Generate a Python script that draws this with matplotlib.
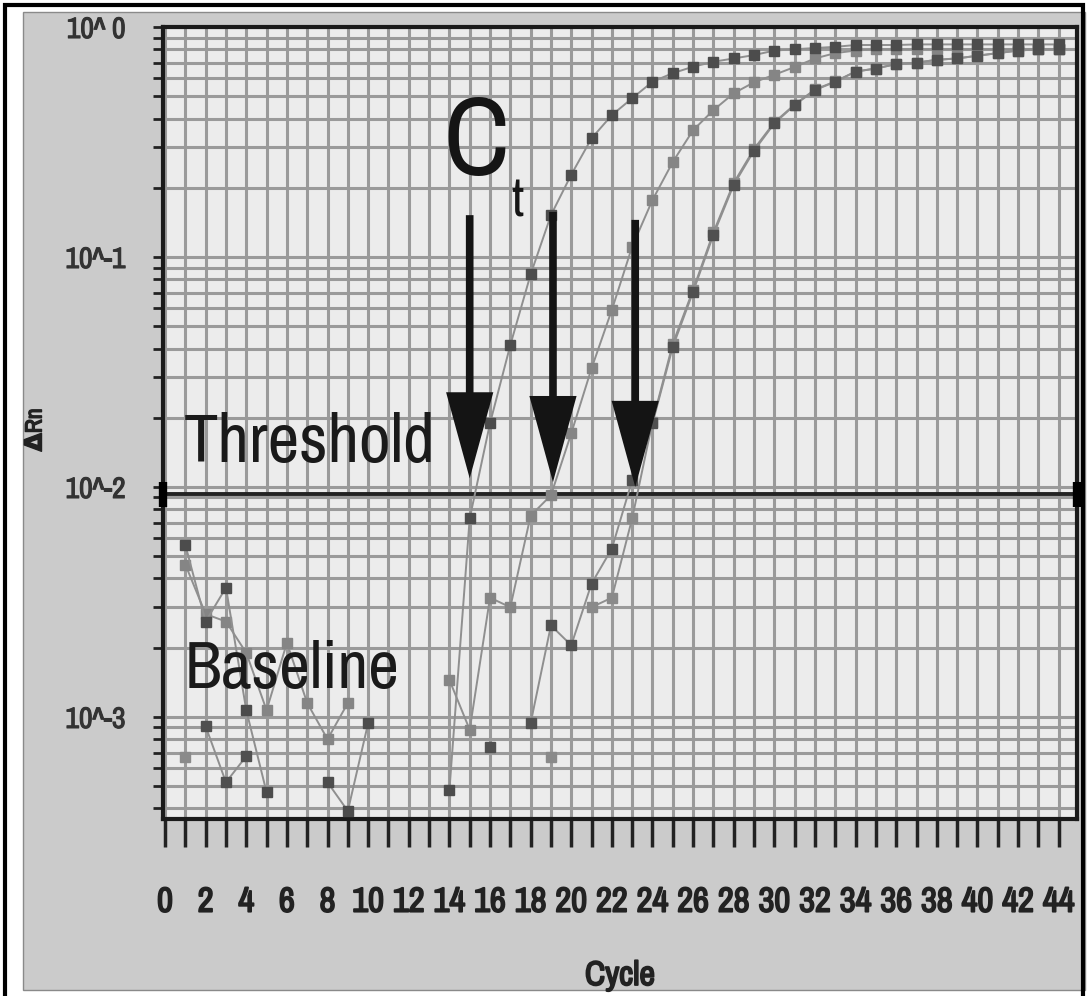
import numpy as np
import matplotlib
matplotlib.use("Agg")
import matplotlib.pyplot as plt
import matplotlib.patheffects as pe
from matplotlib import font_manager
from matplotlib.patches import Rectangle
from matplotlib.ticker import FixedLocator, LogLocator, NullFormatter

nan = np.nan

# amplification data (cycle 1..44)
cycles = np.arange(1, 45)

# dark early curve
curve_a = [5.6e-3, 2.6e-3, 3.65e-3, 1.07e-3, 4.7e-4, nan, nan, 5.2e-4, 3.9e-4, 9.4e-4,
           nan, nan, nan, 4.8e-4, 7.3e-3, 0.0189, 0.0414, 0.084, 0.152, 0.228,
           0.328, 0.414, 0.49, 0.578, 0.63, 0.672, 0.706, 0.73, 0.755, 0.79,
           0.80, 0.81, 0.82, 0.835, 0.835, 0.835, 0.84, 0.84, 0.84, 0.84,
           0.84, 0.84, 0.84, 0.84]
# light middle curve
curve_b = [4.6e-3, 2.8e-3, 2.6e-3, 1.9e-3, 1.07e-3, 2.1e-3, 1.15e-3, 8.0e-4, 1.15e-3, nan,
           nan, nan, nan, 1.45e-3, 8.8e-4, 3.3e-3, 3.0e-3, 7.5e-3, 9.2e-3, 0.0171,
           0.0328, 0.0589, 0.111, 0.177, 0.259, 0.356, 0.435, 0.515, 0.575, 0.62,
           0.67, 0.73, 0.77, 0.79, 0.80, 0.80, 0.80, 0.80, 0.80, 0.80,
           0.80, 0.80, 0.80, 0.80]
# dark late curve
curve_c = [nan, 9.1e-4, 5.2e-4, 6.75e-4, nan, nan, nan, nan, nan, nan,
           nan, nan, nan, nan, nan, 7.4e-4, nan, 9.4e-4, 2.5e-3, 2.05e-3,
           3.8e-3, 5.4e-3, 0.0107, 0.0189, 0.0407, 0.0706, 0.125, 0.206, 0.29, 0.381,
           0.458, 0.532, 0.578, 0.64, 0.66, 0.69, 0.70, 0.72, 0.73, 0.75,
           0.77, 0.79, 0.80, 0.80]
# light late curve
curve_d = [6.7e-4, nan, nan, nan, nan, nan, nan, nan, nan, nan,
           nan, nan, nan, nan, nan, nan, nan, nan, 6.7e-4, nan,
           3.0e-3, 3.3e-3, 7.3e-3, 0.0192, 0.042, 0.072, 0.128, 0.21, 0.295, 0.385,
           0.46, 0.535, 0.58, 0.64, 0.66, 0.69, 0.70, 0.72, 0.73, 0.75,
           0.77, 0.79, 0.80, 0.80]

threshold = 0.0093
ct_x = [15.0, 19.1, 23.15]
ct_top = [0.152, 0.157, 0.145]
ct_tip = [0.0109, 0.0105, 0.0100]

x_ticks = list(range(0, 45))
x_labels = [str(v) if v % 2 == 0 else "" for v in x_ticks]
y_ticks = [1e-3, 1e-2, 1e-1, 1.0]
y_labels = ["10^-3", "10^-2", "10^-1", "10^ 0"]


def pick_font():
    # prefer a narrow / condensed sans if one is installed
    fonts = font_manager.fontManager.ttflist
    for f in fonts:
        if "Narrow" in f.name or "Condensed" in f.name:
            return f.name, "normal"
    for f in fonts:
        if str(f.stretch) in ("condensed", "semi-condensed", "extra-condensed"):
            return f.name, f.stretch
    return "Liberation Sans", "normal"


narrow, stretch = pick_font()
fam = [narrow, "DejaVu Sans"]
bold_fx = [pe.withStroke(linewidth=1.3, foreground="#222222")]

W, H = 1087, 996
fig = plt.figure(figsize=(W / 100, H / 100), dpi=100)
fig.patch.set_facecolor("white")
renderer = fig.canvas.get_renderer()


def fit_size(text, target_px, cap, weight="normal"):
    t = fig.text(0, 0, text, fontfamily=fam, fontstretch=stretch, fontweight=weight, fontsize=40)
    w = t.get_window_extent(renderer).width
    t.remove()
    return min(cap, 40 * target_px / w)


# grey panel and outer frame (behind the axes)
fig.patches.append(Rectangle((23 / W, 1 - 990 / H), (1085 - 23) / W, (990 - 12) / H,
                             transform=fig.transFigure, fc="#cbcbcb", ec="#8a8a8a", lw=1, zorder=-2))
fig.patches.append(Rectangle((5 / W, -0.02), (1083 - 5) / W, 1 - 5 / H + 0.02,
                             transform=fig.transFigure, fill=False, ec="black", lw=3, zorder=-1))

ax = fig.add_axes([163 / W, 1 - 819 / H, (1077 - 163) / W, (819 - 27) / H])
ax.set_zorder(1)
ax.set_facecolor("#ececec")
ax.set_yscale("log")
ax.set_xlim(-0.1, 44.9)
ax.set_ylim(3.6e-4, 1.0)

xt_size = fit_size("10", 33, 25, "bold")
yt_size = fit_size("10^-1", 60, 25)

ax.xaxis.set_major_locator(FixedLocator(x_ticks))
ax.set_xticklabels(x_labels, fontfamily=fam, fontstretch=stretch, fontweight="bold",
                   fontsize=xt_size, color="#222222", path_effects=bold_fx)
ax.yaxis.set_major_locator(FixedLocator(y_ticks))
ax.yaxis.set_minor_locator(LogLocator(base=10, subs=np.arange(2, 10)))
ax.yaxis.set_minor_formatter(NullFormatter())
ax.set_yticklabels(y_labels, fontfamily=fam, fontstretch=stretch, fontsize=yt_size, color="#333333",
                   path_effects=[pe.withStroke(linewidth=0.8, foreground="#333333")])

ax.grid(True, which="both", axis="y", color="#9a9a9a", lw=2.2)
ax.grid(True, which="major", axis="x", color="#9a9a9a", lw=2.2)
ax.set_axisbelow(True)

ax.tick_params(axis="x", length=20, width=2.5, pad=28, color="#222222")
ax.tick_params(axis="y", which="both", length=7, width=2, pad=20, color="#222222")
for s in ax.spines.values():
    s.set_linewidth(3)
    s.set_color("#1a1a1a")

ax.axhline(threshold, color="#222222", lw=2.8, zorder=3)
ax.plot([-0.1, 44.9], [threshold, threshold], ls="none", marker="|", ms=18, mew=6,
        color="black", clip_on=False, zorder=6)

for vals, col in [(curve_d, "#8a8a8a"), (curve_b, "#858585"), (curve_c, "#505050"), (curve_a, "#4c4c4c")]:
    ax.plot(cycles, vals, color="#8f8f8f", lw=1.4, marker="s", ms=7.5, mfc=col, mec=col, zorder=4)

for x, top, tip in zip(ct_x, ct_top, ct_tip):
    ax.annotate("", xy=(x, tip), xytext=(x, top),
                arrowprops=dict(arrowstyle="simple,head_length=6.2,head_width=3.4,tail_width=0.55",
                                mutation_scale=10, fc="#141414", ec="none", shrinkA=0, shrinkB=0),
                zorder=7)

c_size = fit_size("C", 66, 120)
thr_size = fit_size("Threshold", 252, 58)
base_size = fit_size("Baseline", 215, 58)

ax.text(13.7, 0.31, "C", fontfamily=fam, fontstretch=stretch, fontsize=c_size,
        ha="left", va="center", color="#151515", zorder=8)
ax.text(17.35, 0.175, "t", fontfamily=fam, fontstretch=stretch, fontsize=c_size * 0.48,
        ha="center", va="center", color="#151515", zorder=8)
ax.text(0.9, 0.0155, "Threshold", fontfamily=fam, fontstretch=stretch, fontsize=thr_size,
        ha="left", va="center", color="#1a1a1a", zorder=8)
ax.text(0.95, 1.6e-3, "Baseline", fontfamily=fam, fontstretch=stretch, fontsize=base_size,
        ha="left", va="center", color="#1a1a1a", zorder=8)

fig.text(35 / W, 1 - 430 / H, "ΔRn", rotation=90, fontfamily=fam, fontstretch=stretch,
         fontweight="bold", fontsize=17, ha="center", va="center", color="#222222",
         path_effects=[pe.withStroke(linewidth=1.0, foreground="#222222")])
fig.text(620 / W, 1 - 975 / H, "Cycle", fontfamily=fam, fontstretch=stretch, fontweight="bold",
         fontsize=fit_size("Cycle", 70, 26, "bold"), ha="center", va="center", color="#222222",
         path_effects=bold_fx)

fig.savefig("out.png", dpi=100)
